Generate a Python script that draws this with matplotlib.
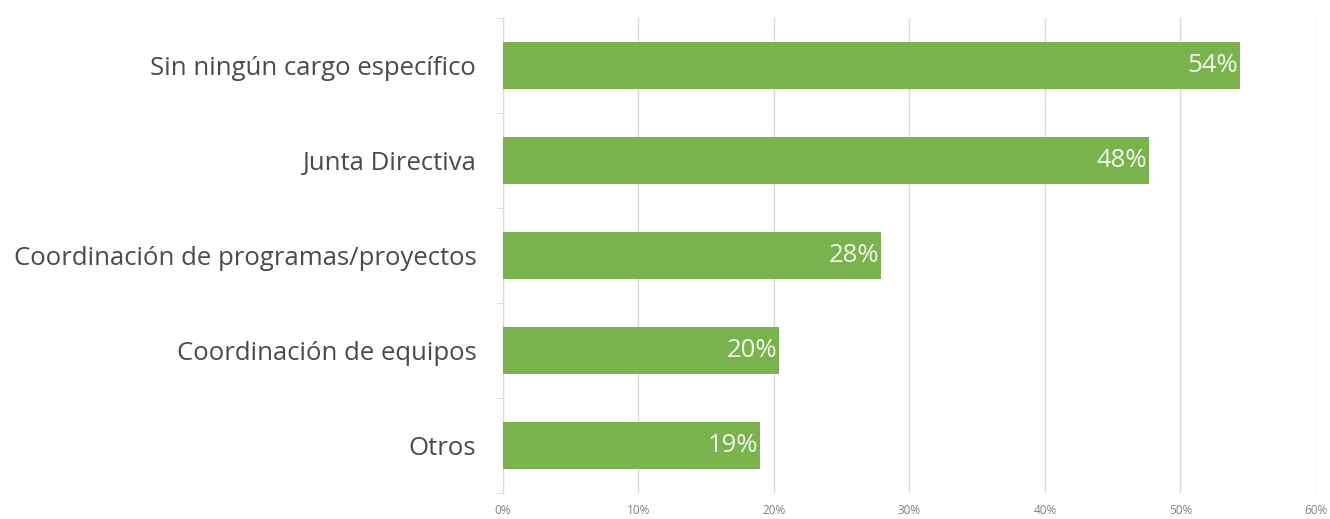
import matplotlib.pyplot as plt
from matplotlib.ticker import FuncFormatter

# cargos y porcentaje de respuestas
cargos = ['Sin ningún cargo específico', 'Junta Directiva',
          'Coordinación de programas/proyectos', 'Coordinación de equipos', 'Otros']
porcentajes = [54.4, 47.7, 27.9, 20.4, 19.0]
ticks = [0, 10, 20, 30, 40, 50, 60]

plt.rcParams['font.family'] = ['Open Sans', 'DejaVu Sans']

fig = plt.figure(figsize=(13.3, 5.19), dpi=100)
ax = fig.add_axes([0.378, 0.05, 0.6115, 0.915])

y = list(range(len(cargos)))[::-1]
bars = ax.barh(y, porcentajes, height=0.5, color='#7ab24e', zorder=3)

# etiquetas dentro de la barra
for b, v in zip(bars, porcentajes):
    ax.text(b.get_width() - 0.15, b.get_y() + b.get_height() / 2, f'{round(v)}%',
            ha='right', va='center', color='#f2f6ec', fontsize=18.5)

ax.set_xlim(0, 60)
ax.set_ylim(-0.5, len(cargos) - 0.5)
ax.set_xticks(ticks)
ax.xaxis.set_major_formatter(FuncFormatter(lambda v, p: f'{v:.0f}%'))
ax.set_yticks(y)
ax.set_yticklabels(cargos, fontsize=18.5, color='#4a4a4a')
ax.set_yticks([i - 0.5 for i in range(len(cargos) + 1)], minor=True)

ax.grid(axis='x', color='#d9d9d9', linewidth=1, zorder=0)
for s in ['top', 'right', 'bottom']:
    ax.spines[s].set_visible(False)
ax.spines['left'].set_color('#d9d9d9')
ax.tick_params(axis='x', length=0, labelsize=8.5, labelcolor='#808080', pad=8)
ax.tick_params(axis='y', which='major', length=0, pad=19)
ax.tick_params(axis='y', which='minor', length=5, color='#d9d9d9')

plt.savefig('out.png', dpi=100)
